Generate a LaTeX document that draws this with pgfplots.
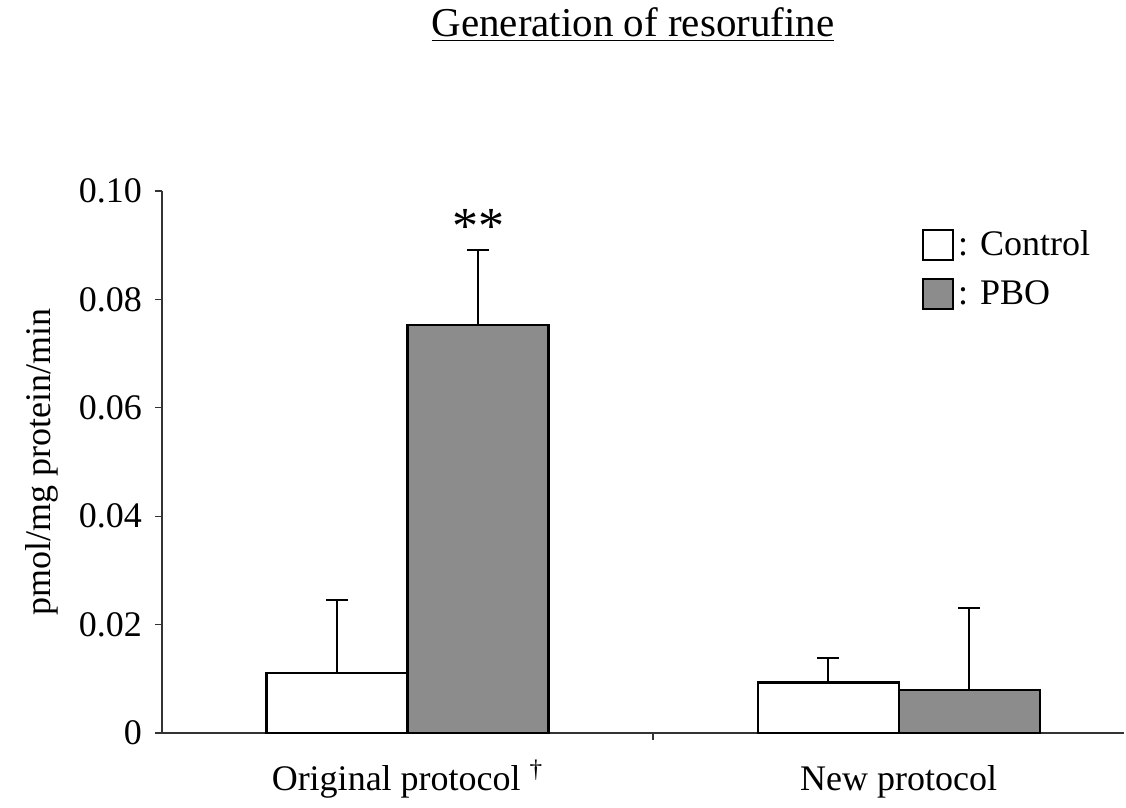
\documentclass[border=0pt]{standalone}
\usepackage{fontspec}
\setmainfont{Liberation Serif}
\usepackage{pgfplots}
\pgfplotsset{compat=1.18}
\definecolor{pbo}{gray}{0.55}
\newcommand{\fs}{\fontsize{18}{21}\selectfont}

\pgfplotstableread{
x y e
0 0.0111 0.0135
1 0.0093 0.0046
}\control
\pgfplotstableread{
x y e
0 0.0753 0.0138
1 0.0079 0.0152
}\pbo

\begin{document}
\begin{tikzpicture}
\useasboundingbox (-81pt,-37.5pt) rectangle (482pt,366.5pt);
\begin{axis}[
  at={(0,0)}, anchor=south west,
  scale only axis, width=481pt, height=271pt,
  xmin=-0.5, xmax=1.459, ymin=0, ymax=0.10,
  ybar=0pt, bar width=70.5pt,
  axis x line*=bottom, axis y line*=left,
  axis line style={black!80, line width=0.6pt},
  every tick/.style={black!80, line width=0.6pt},
  tick align=outside, major tick length=3.5pt,
  xtick={0.5}, xticklabels={},
  extra x ticks={0,1},
  extra x tick labels={Original protocol \textsuperscript{\textdagger}, New protocol},
  extra x tick style={major tick length=0pt},
  ytick={0,0.02,0.04,0.06,0.08,0.1},
  yticklabels={0,0.02,0.04,0.06,0.08,0.10},
  /pgf/number format/assume math mode=true,
  tick label style={font=\fs},
  xticklabel style={inner sep=0pt, text height=12pt, text depth=4pt, yshift=-16.5pt},
  yticklabel style={xshift=-3pt},
  ylabel={pmol/mg protein/min},
  ylabel style={font=\fs, at={(axis description cs:-0.1247,0.5)}, anchor=center},
  legend style={at={(axis description cs:0.79,0.935)}, anchor=north west,
    draw=none, fill=none, inner sep=0pt, font=\fs, row sep=7pt,
    /tikz/every even column/.append style={column sep=2pt}},
  legend cell align=left,
  legend image code/.code={\draw[#1, line width=0.9pt] (0pt,-7.5pt) rectangle (15pt,7.5pt);},
  clip=false,
]
\addplot[draw=black, line width=1.1pt, fill=white,
  error bars/.cd, y dir=plus, y explicit,
  error bar style={line width=1.1pt, black},
  error mark options={rotate=90, mark size=5.5pt, line width=1.1pt, black}]
  table[x=x, y=y, y error=e] {\control};
\addplot[draw=black, line width=1.1pt, fill=pbo,
  error bars/.cd, y dir=plus, y explicit,
  error bar style={line width=1.1pt, black},
  error mark options={rotate=90, mark size=5.5pt, line width=1.1pt, black}]
  table[x=x, y=y, y error=e] {\pbo};
\legend{: Control, : PBO}
\node[font=\fontsize{26}{28}\selectfont, xshift=35.25pt] at (axis cs:0,0.0935) {**};
\end{axis}
\node[font=\fontsize{20.5}{24}\selectfont, anchor=base] at (235.5pt,348pt) {\underline{Generation of resorufine}};
\end{tikzpicture}
\end{document}
